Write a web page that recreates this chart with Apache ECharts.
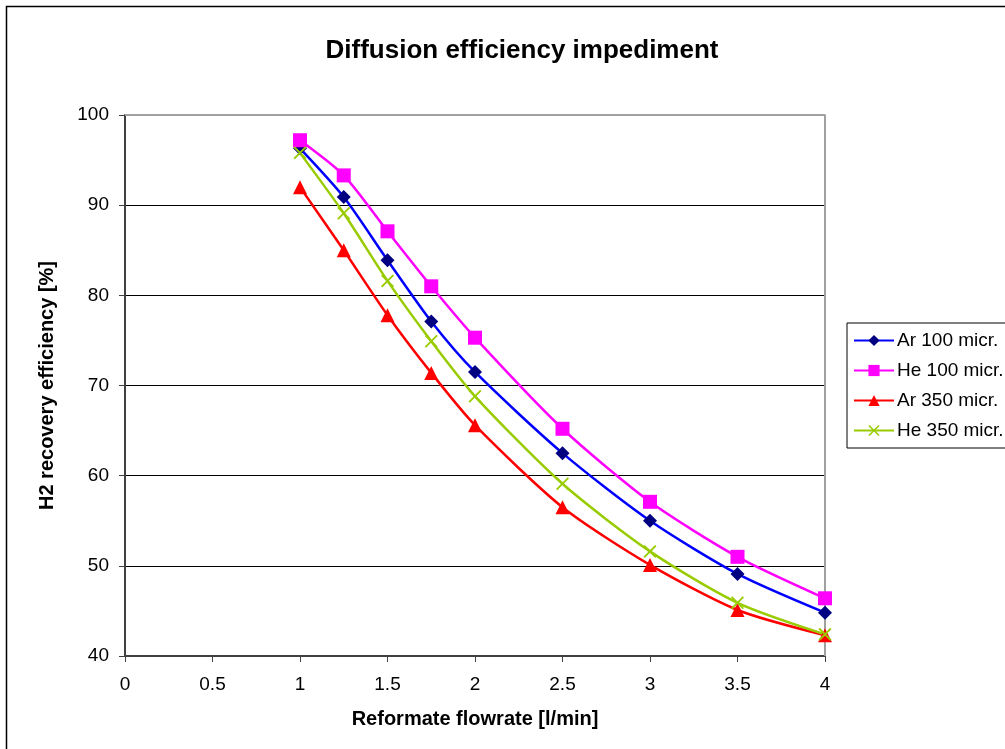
<!DOCTYPE html>
<html>
<head>
<meta charset="utf-8">
<script src="https://cdn.jsdelivr.net/npm/echarts@6/dist/echarts.min.js"></script>
<style>
  html, body { margin: 0; padding: 0; background: #fff; }
  #chart { width: 1005px; height: 749px; }
</style>
</head>
<body>
<div id="chart"></div>
<script>
// flowrate [l/min]
const flowrates = [1, 1.25, 1.5, 1.75, 2, 2.5, 3, 3.5, 4];
const yTicks = [40, 50, 60, 70, 80, 90, 100];
const xTicks = [0, 0.5, 1, 1.5, 2, 2.5, 3, 3.5, 4];

const ar100 = [96.3, 90.9, 83.9, 77.1, 71.5, 62.5, 55.0, 49.1, 44.8];
const he100 = [97.2, 93.3, 87.1, 81.0, 75.3, 65.2, 57.1, 51.0, 46.4];
const ar350 = [92.0, 85.0, 77.8, 71.4, 65.6, 56.5, 50.1, 45.1, 42.3];
const he350 = [95.8, 89.1, 81.6, 74.9, 68.8, 59.1, 51.6, 45.9, 42.4];

const font = 'Arial, "Liberation Sans", sans-serif';
const crossPath = 'path://M0,1L1,0L5,4L9,0L10,1L6,5L10,9L9,10L5,6L1,10L0,9L4,5Z';

function pairs(vals) {
  return flowrates.map((x, i) => [x, vals[i]]);
}

function makeSeries(name, vals, lineColor, markColor, symbol, size) {
  return {
    name: name,
    type: 'line',
    data: pairs(vals),
    smooth: 0.25,
    symbol: symbol,
    symbolSize: size,
    showSymbol: true,
    lineStyle: { color: lineColor, width: 2.5 },
    itemStyle: { color: markColor, borderWidth: 0 },
    emphasis: { disabled: true }
  };
}

const chart = echarts.init(document.getElementById('chart'));
chart.setOption({
  animation: false,
  backgroundColor: '#fff',
  title: {
    text: 'Diffusion efficiency impediment',
    left: 517,
    top: 33,
    textAlign: 'center',
    textStyle: { fontFamily: font, fontSize: 26, fontWeight: 'bold', color: '#000' }
  },
  graphic: [{
    type: 'rect',
    shape: { x: 6.5, y: 6.5, width: 1100, height: 900 },
    style: { fill: 'none', stroke: '#000', lineWidth: 1.5 },
    silent: true
  }],
  legend: {
    left: 847,
    top: 323,
    orient: 'vertical',
    itemWidth: 40,
    itemHeight: 14,
    itemGap: 11,
    padding: [8, 60, 8, 6],
    borderColor: '#000',
    borderWidth: 1,
    textStyle: { fontFamily: font, fontSize: 19, color: '#000', padding: [0, 0, 0, -2] },
    data: ['Ar 100 micr.', 'He 100 micr.', 'Ar 350 micr.', 'He 350 micr.']
  },
  grid: { left: 125, right: 180, top: 115, bottom: 93 },
  xAxis: {
    type: 'value',
    min: xTicks[0],
    max: xTicks[xTicks.length - 1],
    interval: 0.5,
    name: 'Reformate flowrate [l/min]',
    nameLocation: 'middle',
    nameGap: 53,
    nameTextStyle: { fontFamily: font, fontSize: 20, fontWeight: 'bold', color: '#000' },
    axisLine: { show: true, lineStyle: { color: '#404040', width: 2 } },
    axisTick: { show: true, length: 6, lineStyle: { color: '#404040', width: 1 } },
    axisLabel: { margin: 19, fontFamily: font, fontSize: 19, color: '#000' },
    splitLine: { show: false }
  },
  yAxis: {
    type: 'value',
    min: yTicks[0],
    max: yTicks[yTicks.length - 1],
    interval: 10,
    name: 'H2 recovery efficiency [%]',
    nameLocation: 'middle',
    nameGap: 68,
    nameTextStyle: { fontFamily: font, fontSize: 20, fontWeight: 'bold', color: '#000' },
    axisLine: { show: true, lineStyle: { color: '#404040', width: 2 } },
    axisTick: { show: true, length: 6, lineStyle: { color: '#404040', width: 1 } },
    axisLabel: { margin: 16, fontFamily: font, fontSize: 19, color: '#000' },
    splitLine: { show: true, lineStyle: { color: '#000', width: 1 } }
  },
  series: [
    makeSeries('Ar 100 micr.', ar100, '#0000ff', '#000080', 'diamond', 14),
    makeSeries('He 100 micr.', he100, '#ff00ff', '#ff00ff', 'rect', 14),
    makeSeries('Ar 350 micr.', ar350, '#ff0000', '#ff0000', 'triangle', 14),
    makeSeries('He 350 micr.', he350, '#99cc00', '#99cc00', crossPath, 13),
    {
      // plot area frame (top and right edges)
      type: 'line',
      data: [[0, 100], [4, 100], [4, 40]],
      symbol: 'none',
      lineStyle: { color: '#a0a0a0', width: 2 },
      silent: true,
      z: 1
    }
  ]
});
</script>
</body>
</html>
